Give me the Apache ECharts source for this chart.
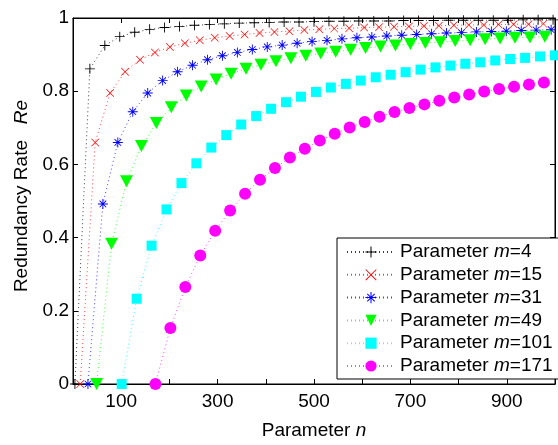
<!DOCTYPE html>
<html>
<head>
<meta charset="utf-8">
<script src="https://cdn.jsdelivr.net/npm/echarts@6/dist/echarts.min.js"></script>
<style>html,body{margin:0;padding:0;background:#fff;}#c{width:558px;height:445px;}</style>
</head>
<body>
<div id="c"></div>
<script>
// ---- data ----
const mValues = [4, 15, 31, 49, 101, 171];
const xTickLabels = [100, 300, 500, 700, 900];
const yTickLabels = ['0', '0.2', '0.4', '0.6', '0.8', '1'];

const n4 = [4,35,66,97,128,159,190,221,252,283,314,345,376,407,438,469,500,531,562,593,624,655,686,717,748,779,810,841,872,903,934,965,996];
const re4 = [0,0.861,0.925,0.949,0.961,0.969,0.974,0.977,0.980,0.982,0.984,0.986,0.987,0.988,0.989,0.989,0.990,0.991,0.991,0.992,0.992,0.992,0.993,0.993,0.993,0.994,0.994,0.994,0.994,0.994,0.995,0.995,0.995];

const n15 = [15,46,77,108,139,170,201,232,263,294,325,356,387,418,449,480,511,542,573,604,635,666,697,728,759,790,821,852,883,914,945,976];
const re15 = [0,0.660,0.795,0.853,0.886,0.906,0.921,0.931,0.939,0.946,0.951,0.955,0.959,0.962,0.964,0.967,0.969,0.971,0.972,0.974,0.975,0.976,0.977,0.978,0.979,0.980,0.981,0.981,0.982,0.983,0.983,0.984];

const n31 = [31,62,93,124,155,186,217,248,279,310,341,372,403,434,465,496,527,558,589,620,651,682,713,744,775,806,837,868,899,930,961,992];
const re31 = [0,0.492,0.660,0.744,0.795,0.829,0.853,0.871,0.886,0.897,0.906,0.914,0.921,0.926,0.931,0.936,0.939,0.943,0.946,0.948,0.951,0.953,0.955,0.957,0.959,0.960,0.962,0.963,0.964,0.966,0.967,0.968];

const n49 = [49,80,111,142,173,204,235,266,297,328,359,390,421,452,483,514,545,576,607,638,669,700,731,762,793,824,855,886,917,948,979];
const re49 = [0,0.383,0.554,0.650,0.713,0.756,0.788,0.813,0.832,0.848,0.861,0.872,0.882,0.890,0.897,0.903,0.908,0.913,0.918,0.922,0.925,0.929,0.932,0.934,0.937,0.939,0.942,0.944,0.946,0.947,0.949];

const n101 = [101,132,163,194,225,256,287,318,349,380,411,442,473,504,535,566,597,628,659,690,721,752,783,814,845,876,907,938,969,1000];
const re101 = [0,0.233,0.378,0.477,0.549,0.603,0.646,0.680,0.709,0.732,0.752,0.770,0.785,0.798,0.810,0.820,0.829,0.838,0.845,0.852,0.859,0.865,0.870,0.875,0.879,0.884,0.888,0.891,0.895,0.898];

const n171 = [171,202,233,264,295,326,357,388,419,450,481,512,543,574,605,636,667,698,729,760,791,822,853,884,915,946,977];
const re171 = [0,0.153,0.265,0.351,0.419,0.474,0.520,0.558,0.590,0.619,0.643,0.665,0.684,0.701,0.716,0.730,0.743,0.754,0.764,0.774,0.783,0.791,0.799,0.806,0.812,0.818,0.824];

// ---- styling ----
const FONT = '"Liberation Sans", Arial, sans-serif';
const FS = 19;
const PLUS = 'path://M0,4.55H10V5.45H0Z M4.55,0H5.45V10H4.55Z';
const CROSS = 'path://M0,0.6L0.6,0L10,9.4L9.4,10Z M9.4,0L10,0.6L0.6,10L0,9.4Z';
const STAR = 'path://M0,4.55H10V5.45H0Z M4.55,0H5.45V10H4.55Z M1.4,2.0L2.0,1.4L8.6,8.0L8.0,8.6Z M8.0,1.4L8.6,2.0L2.0,8.6L1.4,8.0Z';

const seriesDefs = [
  {m: mValues[0], xs: n4,   ys: re4,   color: '#000000', symbol: PLUS,  size: 10, rot: 0},
  {m: mValues[1], xs: n15,  ys: re15,  color: '#ff0000', symbol: CROSS, size: 8,  rot: 0},
  {m: mValues[2], xs: n31,  ys: re31,  color: '#0000ff', symbol: STAR,  size: 10, rot: 0},
  {m: mValues[3], xs: n49,  ys: re49,  color: '#00ff00', symbol: 'triangle', size: [13, 12], rot: 180},
  {m: mValues[4], xs: n101, ys: re101, color: '#00ffff', symbol: 'rect',   size: 10, rot: 0},
  {m: mValues[5], xs: n171, ys: re171, color: '#ff00ff', symbol: 'circle', size: 12, rot: 0}
];

const series = seriesDefs.map(d => ({
  name: 'm=' + d.m,
  type: 'line',
  data: d.xs.map((x, i) => [x, d.ys[i]]),
  symbol: d.symbol,
  symbolSize: d.size,
  symbolRotate: d.rot,
  showAllSymbol: true,
  clip: false,
  animation: false,
  itemStyle: {color: d.color, opacity: 1},
  lineStyle: {color: d.color, width: 1, type: [1, 3], opacity: 0.75}
}));

const chart = echarts.init(document.getElementById('c'), null, {renderer: 'canvas'});
chart.setOption({
  animation: false,
  backgroundColor: '#ffffff',
  textStyle: {fontFamily: FONT},
  grid: {left: 73, top: 18, right: -10, bottom: 55, show: true, borderColor: '#000', borderWidth: 1, backgroundColor: 'transparent'},
  xAxis: [{
    type: 'value', min: 0, max: 1000, interval: 100, position: 'bottom',
    name: 'Parameter {i|n}', nameLocation: 'middle', nameGap: 37,
    nameTextStyle: {fontFamily: FONT, fontSize: FS, color: '#000',
      rich: {i: {fontFamily: FONT, fontSize: FS, fontStyle: 'italic', color: '#000'}}},
    axisLine: {show: true, onZero: false, lineStyle: {color: '#000', width: 1}},
    axisTick: {show: true, inside: true, length: 5, lineStyle: {color: '#000'}},
    splitLine: {show: false},
    axisLabel: {fontFamily: FONT, fontSize: FS, color: '#000', margin: 8,
      formatter: v => xTickLabels.indexOf(v) >= 0 ? String(v) : ''}
  }, {
    type: 'value', min: 0, max: 1000, interval: 100, position: 'top',
    axisLine: {show: true, onZero: false, lineStyle: {color: '#000', width: 1}},
    axisTick: {show: true, inside: true, length: 5, lineStyle: {color: '#000'}},
    axisLabel: {show: false}, splitLine: {show: false}
  }],
  yAxis: [{
    type: 'value', min: 0, max: 1, interval: 0.2, position: 'left',
    name: 'Redundancy Rate   {i|Re}', nameLocation: 'middle', nameGap: 41, nameRotate: 90,
    nameTextStyle: {fontFamily: FONT, fontSize: FS, color: '#000', padding: [0, 0, 0, 10],
      rich: {i: {fontFamily: FONT, fontSize: FS, fontStyle: 'italic', color: '#000'}}},
    axisLine: {show: true, onZero: false, lineStyle: {color: '#000', width: 1}},
    axisTick: {show: true, inside: true, length: 5, lineStyle: {color: '#000'}},
    splitLine: {show: false},
    axisLabel: {fontFamily: FONT, fontSize: FS, color: '#000', margin: 4,
      formatter: (v, idx) => yTickLabels[Math.round(v * 5)]}
  }, {
    type: 'value', min: 0, max: 1, interval: 0.2, position: 'right',
    axisLine: {show: true, onZero: false, lineStyle: {color: '#000'}},
    axisTick: {show: true, inside: true, length: 5}, axisLabel: {show: false}, splitLine: {show: false}
  }],
  legend: {
    orient: 'vertical', left: 337, top: 238,
    itemWidth: 48, itemHeight: 14, itemGap: 2.8,
    padding: [4, 6, 3, 9],
    borderColor: '#000', borderWidth: 1, backgroundColor: '#fff',
    data: series.map(s => s.name),
    formatter: name => '{a|Parameter }{i|m}{a|=' + name.slice(2) + '}',
    textStyle: {fontFamily: FONT, fontSize: FS, color: '#000', lineHeight: 20,
      rich: {
        a: {fontFamily: FONT, fontSize: FS, color: '#000', lineHeight: 20},
        i: {fontFamily: FONT, fontSize: FS, fontStyle: 'italic', color: '#000', lineHeight: 20}
      }}
  },
  series: series
});
</script>
</body>
</html>
